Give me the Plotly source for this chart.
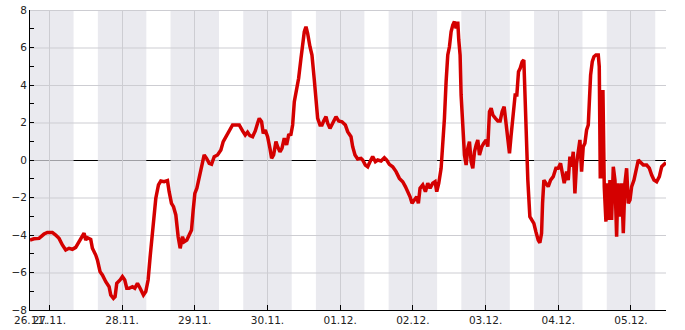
import pandas as pd
import plotly.graph_objects as go

# ---- data (hours after 27.11. 00:00, value) ----
BASE = pd.Timestamp("2023-11-27 00:00")

hours = [
    -6.39, -5.07, -3.41, -1.76, -0.66, 0.99, 2.09, 3.19, 4.30, 5.40, 6.50, 7.60, 8.70, 9.80,
    10.90, 11.46, 12.01, 12.56, 13.66, 14.21, 15.31, 15.86, 16.74, 17.51, 18.62, 19.72, 20.27,
    21.15, 21.70, 22.25, 23.35, 24.12, 24.89, 25.55, 26.33, 27.43, 28.20, 29.08, 29.96, 31.06,
    31.83, 32.60, 33.27, 34.04, 34.59, 35.14, 36.02, 36.79, 37.89, 38.99, 39.54, 40.31, 40.98,
    41.75, 42.52, 43.18, 43.95, 44.50, 45.38, 46.15, 46.93, 47.48, 48.03, 48.69,
    49.46, 50.34, 51.11, 51.89, 52.77, 53.54, 54.42, 55.52, 56.62, 57.39, 58.28, 59.38, 60.48,
    61.58, 62.68, 63.78, 64.66, 65.43, 66.20, 67.09, 67.97, 68.74, 69.29, 70.06, 70.61, 71.27,
    72.04, 72.82, 73.37, 74.03, 74.80, 75.35, 76.12, 76.78, 77.55, 78.32, 78.98, 79.75, 80.31,
    80.86, 81.63, 82.29, 83.06, 83.61, 84.16, 84.71, 85.26, 86.03, 86.69, 87.46, 88.02, 88.57,
    89.34, 90.00, 90.55, 91.32, 91.87, 92.64, 93.52, 94.62, 95.50, 96.61, 97.71, 98.48, 99.58,
    100.13, 100.90, 101.78, 102.88,
    103.43, 104.31, 105.08, 105.85, 106.73, 107.62, 108.39, 109.49, 110.59, 111.36, 112.24,
    113.34, 114.45, 115.55, 116.65, 117.53, 118.30, 119.07, 119.73, 120.50, 121.27, 121.82,
    122.37, 123.26, 124.14, 124.91, 125.68, 126.56, 127.33, 127.88, 128.55, 129.32, 129.87,
    130.42, 130.97, 131.52, 132.07, 132.62, 133.17, 133.72, 134.27, 134.82, 135.15, 135.59,
    135.92, 136.48, 137.03, 137.58, 138.13, 138.68, 139.23, 139.78, 140.34, 140.89, 141.43,
    141.98, 142.75, 143.41, 144.19, 144.74, 145.29, 145.84, 146.39, 147.27, 148.04, 148.80,
    149.47, 150.13, 150.79, 151.34, 151.89, 152.44, 152.99, 153.76, 154.32, 154.87, 155.42,
    156.08, 156.63, 157.07, 157.62, 157.95,
    158.62, 159.17, 159.94, 160.60, 161.37, 161.92, 162.48, 162.81, 163.25, 163.91, 164.68,
    165.45, 166.33, 167.21, 167.98, 168.75, 169.30, 169.96, 170.74, 171.29, 171.84, 172.39,
    172.94, 173.49, 174.04, 174.59, 175.14, 175.69, 176.24, 176.79, 177.35, 177.90, 178.23,
    178.67, 179.22, 179.77, 180.43, 181.20, 181.53, 181.86, 182.41, 182.74, 183.18, 183.73,
    184.17, 184.62, 185.05, 185.60, 186.16, 186.71, 187.26, 187.70, 188.36, 188.91, 189.46,
    190.01, 190.56, 191.11, 191.67, 192.22, 192.99, 193.65, 194.42, 194.97, 196.07, 197.17,
    198.05, 198.82, 199.60, 200.48, 201.36, 202.13, 203.01, 203.56,
]

values = [
    -4.27, -4.20, -4.18, -3.95, -3.86, -3.86, -4.00, -4.18, -4.53, -4.80, -4.71, -4.76, -4.66, -4.36,
    -4.05, -3.90, -4.27, -4.14, -4.23, -4.71, -5.07, -5.33, -5.96, -6.13, -6.49, -6.76, -7.20,
    -7.38, -7.29, -6.58, -6.40, -6.22, -6.40, -6.84, -6.84, -6.76, -6.84, -6.58, -6.84, -7.20,
    -7.02, -6.40, -5.16, -3.91, -2.67, -2.04, -1.33, -1.12, -1.16, -1.10, -1.69, -2.31, -2.49,
    -2.93, -4.09, -4.71, -4.09, -4.36, -4.27, -4.00, -3.73, -2.67, -1.78, -1.51,
    -0.98, -0.36, 0.27, 0.09, -0.18, -0.23, 0.18, 0.27, 0.53, 0.98, 1.24, 1.60, 1.87,
    1.87, 1.87, 1.55, 1.33, 1.48, 1.30, 1.24, 1.55, 1.96, 2.22, 2.04, 1.42, 1.60,
    1.24, 0.62, 0.09, 0.27, 0.98, 0.71, 0.44, 0.62, 1.16, 0.80, 1.33, 1.37, 1.87,
    3.11, 3.73, 4.36, 5.42, 6.13, 6.84, 7.11, 6.76, 6.04, 5.60, 4.27, 3.38, 2.22,
    1.87, 1.87, 2.08, 2.31, 1.96, 1.69, 1.96, 2.31, 2.08, 2.04, 1.87, 1.51, 1.24,
    0.71, 0.27, 0.05, 0.09,
    0.00, -0.27, -0.36, -0.09, 0.18, -0.09, 0.00, -0.05, 0.12, 0.00, -0.23,
    -0.36, -0.62, -0.98, -1.16, -1.42, -1.69, -1.96, -2.31, -2.13, -1.96, -2.31,
    -1.51, -1.33, -1.69, -1.24, -1.51, -1.24, -1.16, -1.69, -1.24, -0.44, 0.71,
    2.22, 4.18, 5.60, 6.04, 6.84, 7.20, 7.38, 7.02, 7.38, 6.40, 5.60,
    3.47, 1.87, 0.27, -0.27, 0.62, 0.98, -0.09, -0.44, 0.44, 0.80, 1.07,
    0.27, 0.71, 0.89, 1.07, 0.71, 2.58, 2.76, 2.40, 2.22, 2.08, 2.08,
    2.58, 2.84, 2.04, 1.33, 0.36, 1.33, 2.22, 3.47, 3.47, 4.71, 4.89,
    5.24, 5.33, 3.11, 0.27, -1.07,
    -3.02, -3.20, -3.38, -3.82, -4.27, -4.41, -3.91, -2.31, -1.07, -1.24, -1.42,
    -1.07, -0.89, -0.44, -0.44, -0.18, -0.62, -1.24, -0.62, -1.07, 0.18, -0.36,
    0.44, -1.78, -0.18, 0.62, 1.07, -0.62, 0.71, 0.89, 1.60, 1.87, 3.38,
    4.53, 5.24, 5.51, 5.60, 5.60, 4.98, -0.89, -0.89, 3.73, -1.42, -3.29,
    -1.24, -3.20, -1.07, -3.20, -0.36, -1.07, -4.09, -1.24, -3.02, -1.24, -3.91,
    -1.24, -0.44, -2.31, -2.13, -1.42, -1.07, -0.53, 0.00, -0.09, -0.27, -0.27,
    -0.44, -0.80, -1.07, -1.16, -0.89, -0.36, -0.18, -0.14,
]

y_ticks = [-8, -6, -4, -2, 0, 2, 4, 6, 8]
NIGHT_START_H = 16
NIGHT_END_H = 8

times = [BASE + pd.Timedelta(hours=h) for h in hours]
t0, t1 = times[0], times[-1]

RED = "#d40000"
GRID = "#cdcdd2"
BAND = "rgba(225,226,232,0.71)"
FONT = dict(family="DejaVu Sans", size=10.5, color="#222222")

H_PX = 330 - 10 - 20          # plot height in pixels
Y_SPAN = y_ticks[-1] - y_ticks[0]
HALF_PX = Y_SPAN / H_PX / 2   # half a pixel in data units, for crisp 1px lines

fig = go.Figure()
fig.add_trace(go.Scatter(x=times, y=values, mode="lines",
                         line=dict(color=RED, width=3.5), hoverinfo="skip",
                         showlegend=False))

shapes = []
# zero line (below bands so it greys out under shading)
shapes.append(dict(type="line", xref="paper", x0=0, x1=1, yref="y",
                   y0=-HALF_PX, y1=-HALF_PX,
                   line=dict(color="black", width=1), layer="below"))
# night bands
day = t0.normalize() - pd.Timedelta(days=1)
while day <= t1:
    s = day + pd.Timedelta(hours=NIGHT_START_H)
    e = day + pd.Timedelta(days=1, hours=NIGHT_END_H)
    s2, e2 = max(s, t0), min(e, t1)
    if s2 < e2:
        shapes.append(dict(type="rect", xref="x", yref="paper", x0=s2, x1=e2, y0=0, y1=1,
                           fillcolor=BAND, line=dict(width=0), layer="below"))
    day += pd.Timedelta(days=1)
# horizontal gridlines
for v in y_ticks:
    if v in (0, y_ticks[0]):
        continue
    yy = v - HALF_PX if v != y_ticks[-1] else v - HALF_PX
    shapes.append(dict(type="line", xref="paper", x0=0, x1=1, yref="y", y0=yy, y1=yy,
                       line=dict(color=GRID, width=1), layer="below"))

fig.update_layout(
    width=685, height=330,
    margin=dict(l=30, r=19, t=10, b=20, autoexpand=False),
    paper_bgcolor="white", plot_bgcolor="white",
    font=FONT,
    shapes=shapes,
    showlegend=False,
    xaxis=dict(
        type="date", range=[t0, t1], automargin=False,
        tick0=BASE, dtick=86400000, tickformat="%d.%m.",
        ticks="inside", ticklen=5, tickcolor="black", tickwidth=1,
        showline=True, linecolor="black", linewidth=1,
        showgrid=True, gridcolor=GRID, gridwidth=1,
        zeroline=False, tickfont=FONT,
    ),
    yaxis=dict(
        range=[y_ticks[0], y_ticks[-1]], tickvals=y_ticks, automargin=False,
        ticks="inside", ticklen=4, tickcolor="black", tickwidth=1,
        minor=dict(dtick=1, ticks="inside", ticklen=4, tickcolor="black", showgrid=False),
        showline=True, linecolor="black", linewidth=1,
        showgrid=False, zeroline=False, tickfont=FONT,
    ),
    annotations=[dict(x=t0, xref="x", y=0, yref="paper", yanchor="top", xanchor="center",
                      text=t0.strftime("%d.%m."), showarrow=False, font=FONT, yshift=-2)],
)

fig.write_html("out.html")
